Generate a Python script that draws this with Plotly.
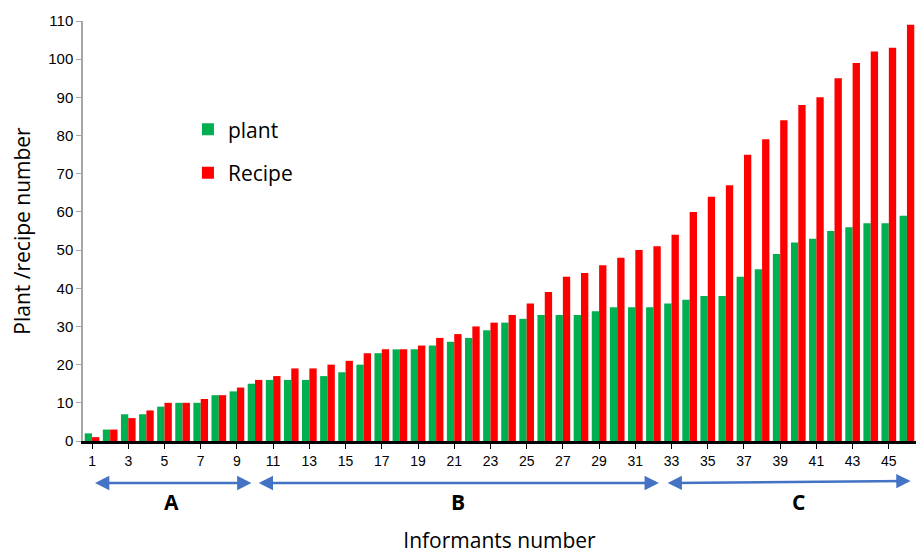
import plotly.graph_objects as go

# Informant index and the counts recorded for each informant
informants = list(range(1, 47))
plant_counts = [2, 3, 7, 7, 9, 10, 10, 12, 13, 15,
                16, 16, 16, 17, 18, 20, 23, 24, 24, 25,
                26, 27, 29, 31, 32, 33, 33, 33, 34, 35,
                35, 35, 36, 37, 38, 38, 43, 45, 49, 52,
                53, 55, 56, 57, 57, 59]
recipe_counts = [1, 3, 6, 8, 10, 10, 11, 12, 14, 16,
                 17, 19, 19, 20, 21, 23, 24, 24, 25, 27,
                 28, 30, 31, 33, 36, 39, 43, 44, 46, 48,
                 50, 51, 54, 60, 64, 67, 75, 79, 84, 88,
                 90, 95, 99, 102, 103, 109]
x_tick_labels = [str(i) for i in range(1, 46, 2)]
y_tick_values = list(range(0, 111, 10))

# Informant groups shown beneath the axis: (label, start, end, label position)
groups = [("A", 1.08, 9.8, 5.4), ("B", 10.12, 32.3, 21.2), ("C", 32.7, 46.2, 40.0)]

GREEN = "#00B050"
RED = "#FF0000"
ARROW = "#4472C4"
TXT_FONT = "'Open Sans', 'Noto Sans', sans-serif"
NUM_FONT = "'Liberation Sans', Arial, sans-serif"

fig = go.Figure()
fig.add_trace(go.Bar(x=informants, y=plant_counts, name="plant",
                     marker=dict(color=GREEN, line=dict(width=0)),
                     legendgroup="p"))
fig.add_trace(go.Bar(x=informants, y=recipe_counts, name="Recipe",
                     marker=dict(color=RED, line=dict(width=0)),
                     legendgroup="r"))

annotations = []
for label, x0, x1, xl in groups:
    tilt = 2 if label == "C" else 0
    annotations.append(dict(
        x=x1, y=-0.1 + tilt / 420, xref="x", yref="paper",
        ax=x0, ay=tilt, axref="x", ayref="pixel",
        showarrow=True, arrowhead=2, startarrowhead=2, arrowside="end+start",
        arrowsize=1.1, startarrowsize=1.1, arrowwidth=2.6, arrowcolor=ARROW,
        standoff=0, startstandoff=0, text=""))
    annotations.append(dict(
        x=xl, y=-0.145, xref="x", yref="paper", yanchor="middle",
        text=f"<b>{label}</b>", showarrow=False,
        font=dict(family=TXT_FONT, size=21, color="#000000")))

fig.update_layout(
    width=919, height=554,
    margin=dict(l=83, r=3, t=21, b=113),
    plot_bgcolor="white", paper_bgcolor="white",
    barmode="group", bargap=0.19, bargroupgap=0,
    showlegend=True,
    legend=dict(x=0.126, y=0.79, xanchor="left", yanchor="top",
                bgcolor="rgba(0,0,0,0)", tracegroupgap=13,
                font=dict(family=TXT_FONT, size=21, color="#000000"),
                itemwidth=30),
    xaxis=dict(
        range=[0.5, 46.5], tickmode="array",
        tickvals=list(range(1, 46, 2)), ticktext=x_tick_labels,
        showgrid=False, zeroline=False,
        showline=True, linecolor="#000000", linewidth=2.5,
        ticks="outside", ticklen=5, tickcolor="#000000",
        tickfont=dict(family=NUM_FONT, size=14, color="#000000"),
        title=dict(text="Informants number", standoff=72,
                   font=dict(family=TXT_FONT, size=21, color="#000000")),
        automargin=False),
    yaxis=dict(
        range=[0, 110], tickmode="array", tickvals=y_tick_values,
        showgrid=False, zeroline=False,
        showline=True, linecolor="#A6A6A6", linewidth=1.5,
        ticks="outside", ticklen=5, tickcolor="#A6A6A6",
        tickfont=dict(family=NUM_FONT, size=15, color="#000000"),
        title=dict(text="Plant /recipe number", standoff=12,
                   font=dict(family=TXT_FONT, size=21, color="#000000")),
        automargin=False),
    annotations=annotations,
)

fig.write_html("out.html")
